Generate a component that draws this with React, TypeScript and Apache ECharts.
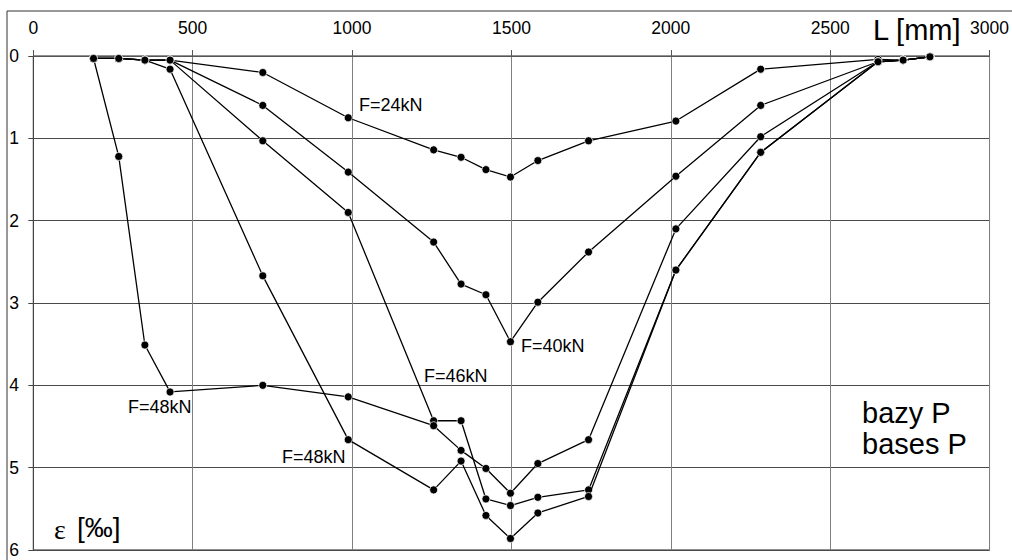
import React, { useEffect, useRef } from "react";
import * as echarts from "echarts";

// Measurement positions along the beam, L [mm]
const positions = [189, 268, 350, 429, 720, 988, 1256, 1342, 1420, 1497, 1583, 1742, 2016, 2282, 2650, 2729, 2813];

// Strain values ε [‰] for each load step
const strainF24 = [0.03, 0.03, 0.05, 0.05, 0.2, 0.75, 1.14, 1.23, 1.38, 1.47, 1.27, 1.03, 0.79, 0.16, 0.04, 0.05, 0.01];
const strainF40 = [0.03, 0.03, 0.05, 0.05, 0.6, 1.41, 2.26, 2.77, 2.9, 3.47, 2.99, 2.38, 1.46, 0.6, 0.07, 0.05, 0.01];
const strainF46 = [0.03, 0.03, 0.05, 0.05, 1.03, 1.9, 4.43, 4.43, 5.38, 5.46, 5.36, 5.27, 2.6, 1.17, 0.07, 0.05, 0.01];
const strainF48a = [0.03, 1.22, 3.51, 4.08, 4.0, 4.14, 4.49, 4.79, 5.01, 5.31, 4.95, 4.66, 2.1, 0.98, 0.07, 0.05, 0.01];
const strainF48b = [0.03, 0.03, 0.05, 0.16, 2.67, 4.66, 5.27, 4.92, 5.58, 5.86, 5.55, 5.35, 2.6, 1.17, 0.07, 0.05, 0.01];

const seriesNames = ["F=24kN", "F=40kN", "F=46kN", "F=48kN (a)", "F=48kN (b)"];
const seriesValues = [strainF24, strainF40, strainF46, strainF48a, strainF48b];

const xTicks = { min: 0, max: 3000, interval: 500 };
const yTicks = { min: 0, max: 6, interval: 1 };

const SANS = "'Liberation Sans', Arial, sans-serif";

export default function App() {
  const ref = useRef<HTMLDivElement>(null);

  useEffect(() => {
    if (!ref.current) return;
    const chart = echarts.init(ref.current, undefined, { renderer: "svg" });

    const series = seriesValues.map((vals, i) => ({
      name: seriesNames[i],
      type: "line",
      data: vals.map((v, j) => [positions[j], v]),
      symbol: "circle",
      symbolSize: 8,
      lineStyle: { color: "#000", width: 1.3 },
      itemStyle: { color: "#000", borderColor: "#fff", borderWidth: 0.7 },
      z: 3 + i,
    }));

    const label = (text: string, x: number, y: number, size = 18) => ({
      type: "text",
      x,
      y,
      z: 20,
      style: {
        text,
        fill: "#000",
        font: `${size}px ${SANS}`,
        textVerticalAlign: "middle",
        verticalAlign: "middle",
      },
    });

    chart.setOption({
      animation: false,
      backgroundColor: "#fff",
      grid: {
        left: 33.3,
        top: 56,
        right: 16,
        bottom: 10,
        show: true,
        borderColor: "#222",
        borderWidth: 1,
        backgroundColor: "transparent",
      },
      xAxis: {
        type: "value",
        position: "top",
        min: xTicks.min,
        max: xTicks.max,
        interval: xTicks.interval,
        axisLine: { show: true, lineStyle: { color: "#555", width: 1 } },
        axisTick: { show: true, length: 6, lineStyle: { color: "#555" } },
        splitLine: { show: true, lineStyle: { color: "#808080", width: 1 } },
        axisLabel: {
          color: "#000",
          fontSize: 17.5,
          fontFamily: SANS,
          margin: 28,
          verticalAlign: "middle",
          formatter: (v: number) => String(v),
        },
      },
      yAxis: {
        type: "value",
        inverse: true,
        min: yTicks.min,
        max: yTicks.max,
        interval: yTicks.interval,
        axisLine: { show: true, lineStyle: { color: "#444", width: 1 } },
        axisTick: { show: true, length: 5, lineStyle: { color: "#444" } },
        splitLine: { show: true, lineStyle: { color: "#4a4a4a", width: 1 } },
        axisLabel: {
          color: "#000",
          fontSize: 17.5,
          fontFamily: SANS,
          margin: 24,
          align: "left",
          formatter: (v: number) => String(v),
        },
      },
      series,
      graphic: [
        {
          type: "rect",
          shape: { x: 7, y: 11, width: 1100, height: 700 },
          style: { fill: "none", stroke: "#333", lineWidth: 1 },
          z: 1,
          silent: true,
        },
        label("F=24kN", 359, 105),
        label("F=40kN", 521, 346),
        label("F=46kN", 424, 376),
        label("F=48kN", 128, 407),
        label("F=48kN", 282, 457),
        label("L [mm]", 873, 30, 29),
        label("bazy P", 862, 413, 29),
        label("bases P", 862, 444, 29),
        {
          type: "text",
          x: 54,
          y: 529,
          z: 20,
          style: {
            text: "ε",
            fill: "#000",
            font: "28px 'Liberation Serif', 'Times New Roman', serif",
            verticalAlign: "middle",
          },
        },
        label("[‰]", 77, 527, 28),
      ],
    });

    return () => chart.dispose();
  }, []);

  return (
    <div
      ref={ref}
      style={{ position: "fixed", left: 0, top: 0, width: 1012, height: 560, background: "#fff" }}
    />
  );
}
